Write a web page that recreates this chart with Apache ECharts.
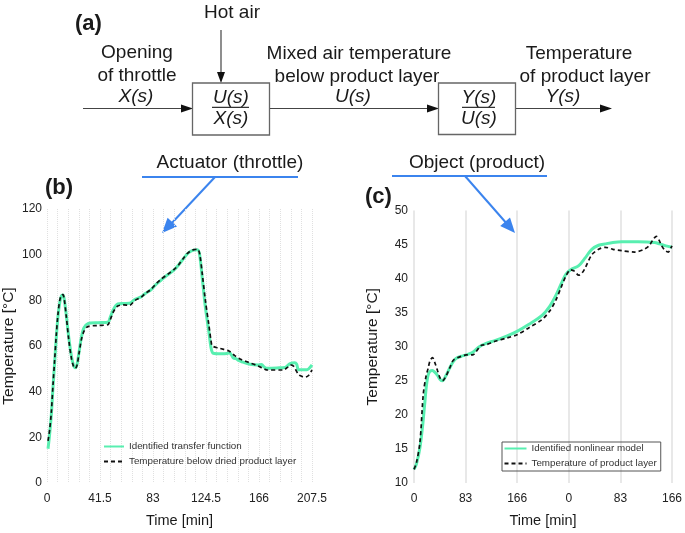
<!DOCTYPE html>
<html>
<head>
<meta charset="utf-8">
<script src="https://cdn.jsdelivr.net/npm/echarts@6.0.0/dist/echarts.min.js"></script>
<style>html,body{margin:0;padding:0;background:#fff}#c{width:685px;height:533px}</style>
</head>
<body>
<div id="c"></div>
<script>
// ---- data (b): throttle -> mixed air temperature ----
var seriesNamesB = ['Identified transfer function', 'Temperature below dried product layer'];
var xTicksB = [0, 41.5, 83, 124.5, 166, 207.5];
var modelB = [[0.8,15],[2,21],[3.4,30],[4.7,42],[6,53],[7.3,64],[8.6,73],[10,79],[11.3,82],[12.5,82.3],[13.5,80.5],[15,74],[17,64],[19,56],[20.8,51.5],[22.1,50.5],[23.5,52],[25,57],[27,64],[29,68],[32,69.8],[40,70.2],[47.6,70.4],[49.5,72.5],[52,76],[55.4,78.4],[60,78.6],[64.5,78.7],[69,80.5],[73.6,81.5],[77,83],[81.4,84.6],[85,86.8],[89.2,88.8],[94,91],[99.5,93.3],[103,95.5],[107.3,98.6],[110,100.4],[112.6,101.5],[115,102],[117.8,102.2],[119.5,100],[121.7,89],[124,77],[126.8,66],[128.5,59],[130.2,56.8],[136,56.6],[141,56.7],[143,57],[144.5,56],[146,54.7],[148,54.5],[150,53.7],[153,53],[159,52],[165,51.7],[168,51.9],[170,50.8],[172,50.3],[180,50.4],[186.5,50.6],[190,52.2],[194,52.7],[195.5,52],[197,49.6],[203.5,49.6],[207.5,51.7]];
var measuredB = [[0.8,18.5],[2,23],[3.4,31],[4.7,43],[6,54],[7.3,65],[8.6,74],[10,80],[11.3,82.3],[12.5,82.5],[13.5,80.5],[15,73.5],[17,63],[19,55],[20.8,51],[22.1,50.2],[23.5,51.5],[25,56.5],[27,63],[29,66.5],[32,68.5],[40,69],[47.6,69.3],[49.5,71.5],[52,75],[55.4,77.5],[60,78],[64.5,77.8],[69,80],[73.6,81.3],[77,83],[81.4,84.8],[85,87],[89.2,89.2],[94,91.2],[99.5,93.5],[103,95.5],[107.3,98.8],[110,100.6],[112.6,101.7],[115,102.2],[117.8,102.4],[119.5,100.5],[121.7,91],[124,80],[126.8,69],[128.5,62],[129.5,60],[135,59],[142.5,57.8],[147,55.8],[151.5,54.2],[158,52.8],[164.6,51.4],[170,50],[172.4,49.5],[185.4,49.5],[188,50.5],[190.6,51.7],[193,51.2],[197,47.5],[200,46.6],[202.3,46.4],[205,47.2],[207.5,49.5]];

// ---- data (c): mixed air temperature -> product temperature ----
var seriesNamesC = ['Identified nonlinear model', 'Temperature of product layer'];
var xTickLabelsC = ['0', '83', '166', '0', '83', '166'];
var modelC = [[0,12],[4,12.8],[9.6,15.2],[14,18.5],[17.6,22],[20,24.3],[22.9,25.9],[26,26.4],[29.8,26.5],[33,26.3],[37.8,25.8],[42,25.2],[45.8,25],[51,25.7],[57.5,26.9],[63,27.8],[68,28.3],[76,28.6],[84,28.8],[94.6,29.2],[105,30],[116,30.5],[130,30.9],[150,31.6],[166.5,32.3],[185,33.3],[206,34.6],[218,35.9],[228,37.5],[237,39.3],[244,40.6],[252,41.3],[265,41.9],[275,43],[286,44.3],[297,44.9],[307.6,45.1],[320,45.3],[334,45.4],[360,45.4],[387,45.3],[395,45.1],[405,44.8],[415,44.6]];
var measuredC = [[0,12],[4,13],[9.6,16],[14.9,23],[19,25.5],[22.9,26.9],[26,28],[29.8,28.4],[33,27.8],[37.8,26.5],[42,25.4],[45.8,25],[51,25.6],[57.5,26.9],[63,28],[68,28.3],[76,28.6],[84,28.8],[94.6,28.8],[100,29.3],[108,30.2],[116,30.3],[130,30.8],[150,31.3],[166.5,31.8],[185,32.8],[206,34],[218,35.2],[228,36.8],[237,38.8],[244,40.3],[252,41.3],[258,41.1],[265,40.5],[270,40.8],[275,41.5],[286,43.5],[297,44.3],[307.6,44.6],[320,44.3],[334,44.1],[355,43.9],[370,44.3],[378,44.8],[385,45.8],[390,46.2],[394,45.7],[398,44.9],[404,44.1],[409,43.9],[412,44.3],[415,44.8]];

var FONT = '"Liberation Sans", Arial, Helvetica, sans-serif';
var GREEN = '#58efb0';
var BLUE = '#3b84ee';
var LINEC = '#444';

function arrowHead(x1, y1, x2, y2, len, half, color) {
  var dx = x2 - x1, dy = y2 - y1, d = Math.sqrt(dx*dx + dy*dy);
  var ux = dx / d, uy = dy / d;
  var bx = x2 - ux*len, by = y2 - uy*len;
  return {type:'polygon', shape:{points:[[x2,y2],[bx - uy*half, by + ux*half],[bx + uy*half, by - ux*half]]}, style:{fill:color}, silent:true};
}
function line(x1,y1,x2,y2,color,w){return {type:'line',shape:{x1:x1,y1:y1,x2:x2,y2:y2},style:{stroke:color,lineWidth:w},silent:true};}
function txt(x,y,s,size,opts){
  opts = opts || {};
  return {type:'text', x:x, y:y, style:{text:s, fill:'#1a1a1a', font:(opts.italic?'italic ':'')+(opts.bold?'bold ':'')+size+'px '+FONT, align:opts.align||'center', verticalAlign:'middle'}, silent:true};
}

var graphics = [
  txt(75,24,'(a)',22,{bold:true,align:'left'}),
  txt(232,13,'Hot air',19),
  line(221,30,221,73,LINEC,1.2), arrowHead(221,30,221,83,11,4,'#111'),
  txt(137,53,'Opening',19), txt(137,76,'of throttle',19), txt(136,97,'X(s)',19,{italic:true}),
  line(83,108.5,182,108.5,LINEC,1.2), arrowHead(83,108.5,193,108.5,12,4,'#111'),
  {type:'rect',shape:{x:192.5,y:83,width:77,height:52},style:{fill:'none',stroke:'#666',lineWidth:1.3},silent:true},
  txt(231,97.5,'U(s)',19,{italic:true}), line(212,107.3,249,107.3,'#333',1.3), txt(231,118.5,'X(s)',19,{italic:true}),
  txt(359,54,'Mixed air temperature',19), txt(357,77,'below product layer',19), txt(353,97,'U(s)',19,{italic:true}),
  line(270,108.5,428,108.5,LINEC,1.2), arrowHead(270,108.5,439,108.5,12,4,'#111'),
  {type:'rect',shape:{x:438.5,y:83,width:77,height:51.5},style:{fill:'none',stroke:'#666',lineWidth:1.3},silent:true},
  txt(479,97.5,'Y(s)',19,{italic:true}), line(462,107.3,495,107.3,'#333',1.3), txt(479,118.5,'U(s)',19,{italic:true}),
  txt(579,54,'Temperature',19), txt(585,77,'of product layer',19), txt(563,97,'Y(s)',19,{italic:true}),
  line(516,108.5,600,108.5,LINEC,1.2), arrowHead(516,108.5,612,108.5,12,4,'#111'),
  txt(230,163,'Actuator (throttle)',19),
  line(142,177,298,177,BLUE,2),
  line(215,177,170,225,BLUE,2), arrowHead(215,177,162,233,15,6.5,BLUE),
  txt(477,163,'Object (product)',19),
  line(392,176,547,176,BLUE,2),
  line(465,176,508,225,BLUE,2), arrowHead(465,176,515,233,15,6.5,BLUE),
  txt(45,188,'(b)',22,{bold:true,align:'left'}),
  txt(365,197,'(c)',22,{bold:true,align:'left'})
];

var axisLabelStyle = {color:'#222', fontSize:12, fontFamily:FONT};
var nameStyle = {color:'#1a1a1a', fontSize:15.5, fontFamily:FONT};

var option = {
  backgroundColor:'#fff',
  animation:false,
  textStyle:{fontFamily:FONT},
  grid:[
    {left:46, top:209, width:266, height:277},
    {left:414, top:210.5, width:260, height:275.5}
  ],
  xAxis:[
    {type:'value', gridIndex:0, min:0, max:207.5, interval:41.5,
     axisLine:{show:false}, axisTick:{show:false},
     axisLabel:Object.assign({margin:10}, axisLabelStyle),
     minorTick:{show:false, splitNumber:5},
     splitLine:{show:true, lineStyle:{color:'#e0e0e0', type:'dotted', width:1}},
     minorSplitLine:{show:true, lineStyle:{color:'#e0e0e0', type:'dotted', width:1}},
     name:'Time [min]', nameLocation:'middle', nameGap:30, nameTextStyle:{color:'#1a1a1a', fontSize:14.5, fontFamily:FONT}},
    {type:'value', gridIndex:1, min:0, max:415, interval:83,
     axisLine:{show:false}, axisTick:{show:false},
     axisLabel:Object.assign({margin:10, formatter:function(v){ return xTickLabelsC[Math.round(v/83)]; }}, axisLabelStyle),
     splitLine:{show:true, lineStyle:{color:'#e0e0e0', width:1.5}},
     name:'Time [min]', nameLocation:'middle', nameGap:30, nameTextStyle:{color:'#1a1a1a', fontSize:14.5, fontFamily:FONT}}
  ],
  yAxis:[
    {type:'value', gridIndex:0, min:0, max:120, interval:20,
     axisLine:{show:false}, axisTick:{show:false}, splitLine:{show:false},
     axisLabel:Object.assign({margin:5}, axisLabelStyle),
     name:'Temperature [°C]', nameLocation:'middle', nameGap:30, nameTextStyle:nameStyle},
    {type:'value', gridIndex:1, min:10, max:50, interval:5,
     axisLine:{show:false}, axisTick:{show:false}, splitLine:{show:false},
     axisLabel:Object.assign({margin:6}, axisLabelStyle),
     name:'Temperature [°C]', nameLocation:'middle', nameGap:33, nameTextStyle:nameStyle}
  ],
  legend:[
    {data:[seriesNamesB[0], seriesNamesB[1]], orient:'vertical', left:103, top:441.5, padding:0,
     itemWidth:20, itemHeight:8, itemGap:5, itemStyle:{opacity:0, borderWidth:0},
     textStyle:{color:'#333', fontSize:9.8, fontFamily:FONT}},
    {data:[seriesNamesC[0], seriesNamesC[1]], orient:'vertical', left:502, top:442, padding:[1.5,4,2.5,1.5],
     borderColor:'#555', borderWidth:1, itemWidth:22, itemHeight:8, itemGap:5, itemStyle:{opacity:0, borderWidth:0},
     textStyle:{color:'#333', fontSize:9.8, fontFamily:FONT}}
  ],
  graphic:graphics,
  series:[
    {name:seriesNamesB[0], type:'line', xAxisIndex:0, yAxisIndex:0, data:modelB, showSymbol:false, symbol:'none', smooth:0.3,
     lineStyle:{color:GREEN, width:3}, itemStyle:{color:GREEN}, z:2},
    {name:seriesNamesB[1], type:'line', xAxisIndex:0, yAxisIndex:0, data:measuredB, showSymbol:false, symbol:'none', smooth:0.3,
     lineStyle:{color:'#111', width:1.7, type:[4,3]}, itemStyle:{color:'#111'}, z:3},
    {name:seriesNamesC[0], type:'line', xAxisIndex:1, yAxisIndex:1, data:modelC, showSymbol:false, symbol:'none', smooth:0.3,
     lineStyle:{color:GREEN, width:3}, itemStyle:{color:GREEN}, z:2},
    {name:seriesNamesC[1], type:'line', xAxisIndex:1, yAxisIndex:1, data:measuredC, showSymbol:false, symbol:'none', smooth:0.3,
     lineStyle:{color:'#111', width:1.7, type:[4,3]}, itemStyle:{color:'#111'}, z:3}
  ]
};
var chart = echarts.init(document.getElementById('c'), null, {renderer:'canvas'});
chart.setOption(option);
</script>
</body>
</html>
